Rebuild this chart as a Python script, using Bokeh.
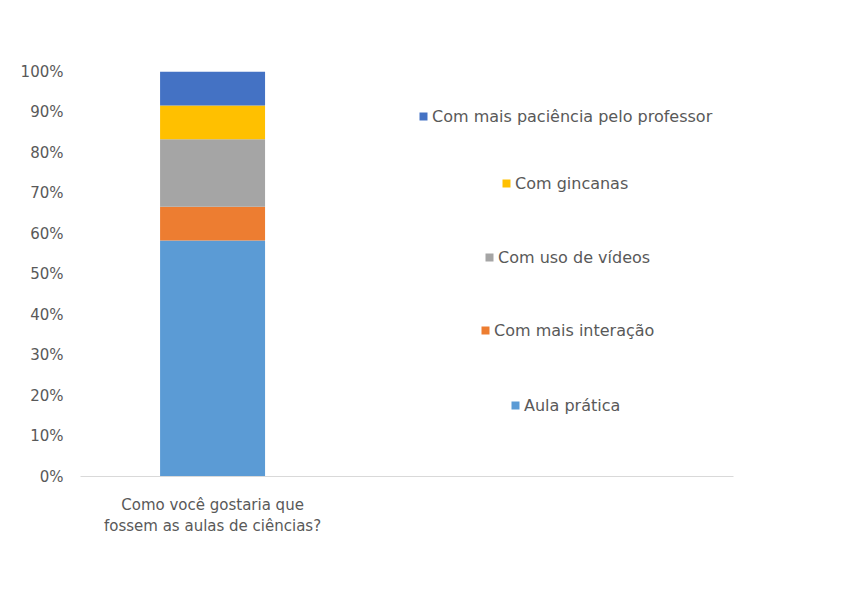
from bokeh.plotting import figure
from bokeh.models import (ColumnDataSource, Range1d, FixedTicker, PrintfTickFormatter,
                          Legend, LegendItem)
from bokeh.embed import file_html
from bokeh.resources import INLINE

# ---- data ----
category = "Como você gostaria que\nfossem as aulas de ciências?"
series = ["Aula prática", "Com mais interação", "Com uso de vídeos",
          "Com gincanas", "Com mais paciência pelo professor"]
aula_pratica = [58.3]
mais_interacao = [8.3]
uso_videos = [16.7]
gincanas = [8.3]
mais_paciencia = [8.4]
colors = ["#5B9BD5", "#ED7D31", "#A5A5A5", "#FFC000", "#4472C4"]
y_ticks = [0, 10, 20, 30, 40, 50, 60, 70, 80, 90, 100]

source = ColumnDataSource(data={
    "x": [0],
    series[0]: aula_pratica,
    series[1]: mais_interacao,
    series[2]: uso_videos,
    series[3]: gincanas,
    series[4]: mais_paciencia,
})

FONT = "DejaVu Sans"
TXT = "#595959"

p = figure(width=837, height=600, output_backend="svg", toolbar_location=None,
           x_range=Range1d(-0.629, 2.481), y_range=Range1d(0, 100),
           min_border_left=80, min_border_right=104, min_border_top=71,
           min_border_bottom=124)
p.outline_line_color = None
p.xgrid.visible = False
p.ygrid.visible = False
p.background_fill_color = "white"
p.border_fill_color = "white"

renderers = p.vbar_stack(series, x="x", width=0.5, color=colors, line_color=None,
                         source=source)

# axes
p.yaxis.ticker = FixedTicker(ticks=y_ticks)
p.yaxis.formatter = PrintfTickFormatter(format="%d%%")
p.yaxis.axis_line_color = None
p.yaxis.major_tick_line_color = None
p.yaxis.minor_tick_line_color = None
p.yaxis.major_tick_out = 0
p.yaxis.major_label_standoff = 17
p.yaxis.major_label_text_font = FONT
p.yaxis.major_label_text_font_size = "15px"
p.yaxis.major_label_text_color = TXT

p.xaxis.ticker = FixedTicker(ticks=[0])
p.xaxis.major_label_overrides = {0: category}
p.xaxis.axis_line_color = "#D9D9D9"
p.xaxis.axis_line_width = 1
p.xaxis.major_tick_line_color = None
p.xaxis.minor_tick_line_color = None
p.xaxis.major_tick_out = 0
p.xaxis.major_label_standoff = 19
p.xaxis.major_label_text_font = FONT
p.xaxis.major_label_text_font_size = "15px"
p.xaxis.major_label_text_color = TXT

# legends: one per entry, centred like the original (top to bottom reversed order)
positions = {4: (338, 350), 3: (421, 283), 2: (404, 209), 1: (400, 136), 0: (430, 61)}
for i in [4, 3, 2, 1, 0]:
    lg = Legend(items=[LegendItem(label=series[i], renderers=[renderers[i]])],
                location=positions[i], orientation="vertical",
                padding=0, margin=0, spacing=0,
                glyph_width=10, glyph_height=10, label_standoff=4, label_height=20,
                label_text_font=FONT, label_text_font_size="16px",
                label_text_color=TXT,
                background_fill_alpha=0, border_line_alpha=0)
    p.add_layout(lg, "center")

open("out.html", "w").write(file_html(p, INLINE))
